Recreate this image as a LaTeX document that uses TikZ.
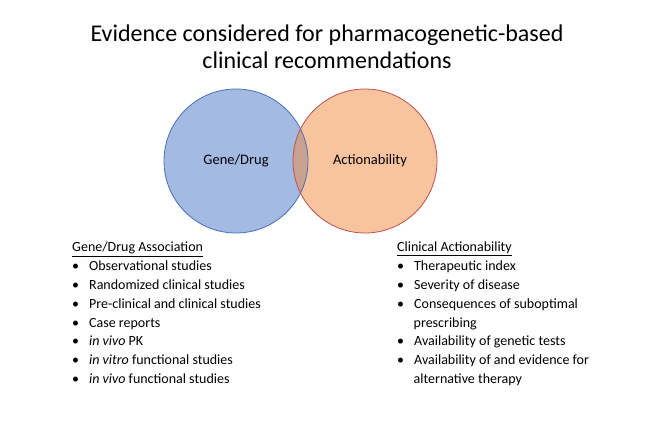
\documentclass[tikz,border=0pt]{standalone}
\usepackage{fontspec}
\setmainfont{Carlito}
\begin{document}
\begin{tikzpicture}[x=1pt,y=-1pt,
  title/.style={font=\fontsize{24}{27}\selectfont,align=center},
  lbl/.style={font=\fontsize{14.5}{16}\selectfont},
  lst/.style={font=\fontsize{14}{18.8}\selectfont,anchor=north west,align=left,inner sep=0pt}]
\definecolor{bfill}{HTML}{A3BAE2}\definecolor{bdraw}{HTML}{4A6FB5}
\definecolor{ofill}{HTML}{F8C39F}\definecolor{odraw}{HTML}{C0504D}
\definecolor{mix}{HTML}{C9A190}
\useasboundingbox (0,0) rectangle (653,422);
\node[title] (t) at (327,47) {Evidence considered for pharmacogenetic-based\\clinical recommendations};
\fill[bfill] (236,161) circle (72);
\fill[ofill] (365,161) circle (72);
\begin{scope}\clip (236,161) circle (72); \fill[mix] (365,161) circle (72);\end{scope}
\draw[bdraw,line width=0.8pt] (236,161) circle (72);
\draw[odraw,line width=0.8pt] (365,161) circle (72);
\node[lbl] (g) at (236,161) {Gene/Drug};
\node[lbl] (a) at (370,161) {Actionability};
\node[lst] (l) at (72,242) {\underline{Gene/Drug Association}\\
\textbullet\hspace{10pt}Observational studies\\
\textbullet\hspace{10pt}Randomized clinical studies\\
\textbullet\hspace{10pt}Pre-clinical and clinical studies\\
\textbullet\hspace{10pt}Case reports\\
\textbullet\hspace{10pt}\textit{in vivo} PK\\
\textbullet\hspace{10pt}\textit{in vitro} functional studies\\
\textbullet\hspace{10pt}\textit{in vivo} functional studies};
\node[lst] (r) at (397,242) {\underline{Clinical Actionability}\\
\textbullet\hspace{10pt}Therapeutic index\\
\textbullet\hspace{10pt}Severity of disease\\
\textbullet\hspace{10pt}Consequences of suboptimal\\
\hspace{16.5pt}prescribing\\
\textbullet\hspace{10pt}Availability of genetic tests\\
\textbullet\hspace{10pt}Availability of and evidence for\\
\hspace{16.5pt}alternative therapy};
\end{tikzpicture}
\end{document}
